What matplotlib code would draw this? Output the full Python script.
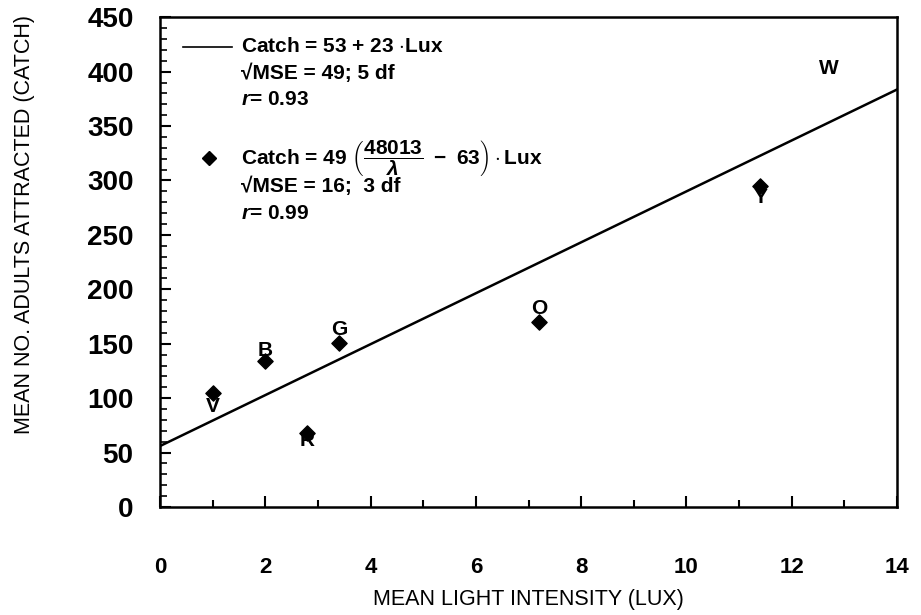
import numpy as np
import matplotlib.pyplot as plt
from matplotlib.lines import Line2D

plt.rcParams['font.family'] = ['Liberation Sans', 'DejaVu Sans']
plt.rcParams['mathtext.fontset'] = 'custom'
plt.rcParams['mathtext.rm'] = 'Liberation Sans:bold'
plt.rcParams['mathtext.it'] = 'Liberation Sans:italic:bold'
plt.rcParams['mathtext.bf'] = 'Liberation Sans:bold'

# points (light colour, mean lux, mean catch)
colours = ['V', 'B', 'R', 'G', 'O', 'Y']
lux = [1.0, 2.0, 2.8, 3.4, 7.2, 11.4]
catch = [105, 134, 68, 151, 170, 295]

# letter labels placed near each point
lab_names = ['V', 'B', 'R', 'G', 'O', 'Y', 'W']
lab_x = [1.0, 2.0, 2.8, 3.4, 7.2, 11.4, 12.7]
lab_y = [92, 144, 61, 163, 182, 284, 403]

# fitted line: Catch = a + b * Lux
fit_a = 56
fit_b = 23.4
line_x = np.array([0, 14])

fig = plt.figure(figsize=(9.21, 6.15), dpi=100)
ax = fig.add_axes([0.1737, 0.1756, 0.8003, 0.7964])

ax.plot(line_x, fit_a + fit_b*line_x, color='black', lw=1.8)
ax.scatter(lux, catch, marker='D', s=60, color='black', zorder=3)
for n, x, y in zip(lab_names, lab_x, lab_y):
    ax.text(x, y, n, ha='center', va='center', fontsize=15, fontweight='bold')

ax.set_xlim(0, 14)
ax.set_ylim(0, 450)
ax.set_xticks(np.arange(0, 15, 2))
ax.set_xticks(np.arange(1, 14, 2), minor=True)
ax.set_yticks(np.arange(0, 451, 50))
ax.set_yticks(np.arange(0, 451, 10), minor=True)
ax.tick_params(axis='x', which='major', direction='in', length=8, width=1.5,
               pad=36, labelsize=16)
ax.tick_params(axis='x', which='minor', direction='in', length=5, width=1.5)
ax.tick_params(axis='y', which='major', direction='in', length=8, width=1.5,
               pad=19, labelsize=20)
ax.tick_params(axis='y', which='minor', direction='in', length=5, width=1.2)
for lb in ax.get_xticklabels():
    lb.set_fontweight('bold')
for lb in ax.get_yticklabels():
    lb.set_fontweight('bold')
for s in ax.spines.values():
    s.set_linewidth(1.8)

ax.set_xlabel('MEAN LIGHT INTENSITY (LUX)', fontsize=15.5)
ax.set_ylabel('MEAN NO. ADULTS ATTRACTED (CATCH)', fontsize=15.5)
ax.xaxis.set_label_coords(0.5, -0.168)
ax.yaxis.set_label_coords(-0.17, 0.576)

# legend block
fs = 15
ax.add_line(Line2D([0.031, 0.098], [0.94, 0.94], transform=ax.transAxes,
                   color='black', lw=1.2))
ax.text(0.11, 0.94, 'Catch = 53 + 23 $\\cdot$Lux', transform=ax.transAxes,
        va='center', fontsize=fs, fontweight='bold')
ax.text(0.11, 0.886, '\u221aMSE = 49; 5 df', transform=ax.transAxes,
        va='center', fontsize=fs, fontweight='bold')
ax.text(0.11, 0.832, '$\\it{r}$= 0.93', transform=ax.transAxes,
        va='center', fontsize=fs, fontweight='bold')
ax.add_line(Line2D([0.066], [0.712], transform=ax.transAxes, marker='D',
                   markersize=7.5, color='black'))
ax.text(0.11, 0.712,
        'Catch = 49 $\\left(\\dfrac{48013}{\\lambda}\\ -\\ 63\\right)\\cdot$Lux',
        transform=ax.transAxes, va='center', fontsize=fs, fontweight='bold')
ax.text(0.11, 0.655, '\u221aMSE = 16;  3 df', transform=ax.transAxes,
        va='center', fontsize=fs, fontweight='bold')
ax.text(0.11, 0.600, '$\\it{r}$= 0.99', transform=ax.transAxes,
        va='center', fontsize=fs, fontweight='bold')

fig.savefig('out.png', dpi=100)
